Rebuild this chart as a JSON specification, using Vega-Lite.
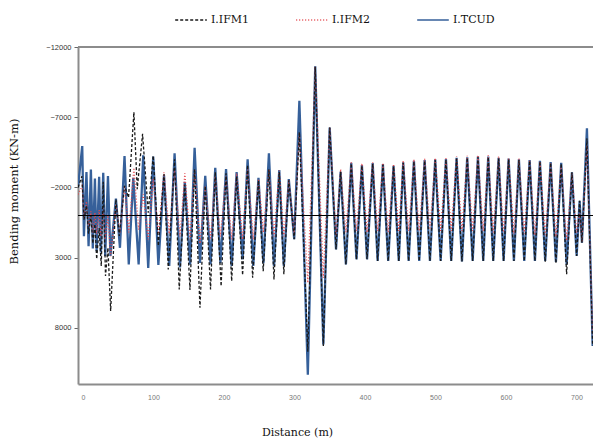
{
  "$schema": "https://vega.github.io/schema/vega-lite/v6.json",
  "width": 515,
  "height": 337,
  "autosize": {"type": "none"},
  "padding": {"left": 78, "top": 47, "right": 0, "bottom": 55},
  "background": "white",
  "config": {"view": {"stroke": null}},
  "data": {"values": [
    {"d": -7, "m": -2000, "s": "I.TCUD"},
    {"d": -1, "m": -4950, "s": "I.TCUD"},
    {"d": 1.4, "m": 1480, "s": "I.TCUD"},
    {"d": 5, "m": -3090, "s": "I.TCUD"},
    {"d": 8, "m": 2190, "s": "I.TCUD"},
    {"d": 11.3, "m": -3280, "s": "I.TCUD"},
    {"d": 14, "m": 2350, "s": "I.TCUD"},
    {"d": 17, "m": -2640, "s": "I.TCUD"},
    {"d": 19.4, "m": 2550, "s": "I.TCUD"},
    {"d": 23, "m": -2760, "s": "I.TCUD"},
    {"d": 25.5, "m": 2630, "s": "I.TCUD"},
    {"d": 28.8, "m": -3050, "s": "I.TCUD"},
    {"d": 31.6, "m": 2880, "s": "I.TCUD"},
    {"d": 35.5, "m": -2810, "s": "I.TCUD"},
    {"d": 39, "m": 2880, "s": "I.TCUD"},
    {"d": 46.8, "m": -1200, "s": "I.TCUD"},
    {"d": 52.5, "m": 2300, "s": "I.TCUD"},
    {"d": 59, "m": -4240, "s": "I.TCUD"},
    {"d": 65, "m": 3480, "s": "I.TCUD"},
    {"d": 71.4, "m": -2690, "s": "I.TCUD"},
    {"d": 79, "m": 3480, "s": "I.TCUD"},
    {"d": 85.5, "m": -4280, "s": "I.TCUD"},
    {"d": 92.6, "m": 3730, "s": "I.TCUD"},
    {"d": 99.7, "m": -4190, "s": "I.TCUD"},
    {"d": 107, "m": 3520, "s": "I.TCUD"},
    {"d": 115, "m": -2860, "s": "I.TCUD"},
    {"d": 122.4, "m": 3600, "s": "I.TCUD"},
    {"d": 130, "m": -4430, "s": "I.TCUD"},
    {"d": 137.6, "m": 3700, "s": "I.TCUD"},
    {"d": 144.5, "m": -2400, "s": "I.TCUD"},
    {"d": 152, "m": 3500, "s": "I.TCUD"},
    {"d": 158.4, "m": -4830, "s": "I.TCUD"},
    {"d": 166, "m": 3380, "s": "I.TCUD"},
    {"d": 173.5, "m": -2830, "s": "I.TCUD"},
    {"d": 181, "m": 3480, "s": "I.TCUD"},
    {"d": 187.7, "m": -3400, "s": "I.TCUD"},
    {"d": 195, "m": 3400, "s": "I.TCUD"},
    {"d": 203, "m": -3300, "s": "I.TCUD"},
    {"d": 211, "m": 3600, "s": "I.TCUD"},
    {"d": 218, "m": -3100, "s": "I.TCUD"},
    {"d": 226.5, "m": 3120, "s": "I.TCUD"},
    {"d": 233.6, "m": -4000, "s": "I.TCUD"},
    {"d": 241.6, "m": 3600, "s": "I.TCUD"},
    {"d": 249, "m": -2690, "s": "I.TCUD"},
    {"d": 256, "m": 3400, "s": "I.TCUD"},
    {"d": 263.8, "m": -4430, "s": "I.TCUD"},
    {"d": 271, "m": 3600, "s": "I.TCUD"},
    {"d": 278.5, "m": -3240, "s": "I.TCUD"},
    {"d": 285, "m": 3600, "s": "I.TCUD"},
    {"d": 292, "m": -2590, "s": "I.TCUD"},
    {"d": 299.7, "m": 1690, "s": "I.TCUD"},
    {"d": 307, "m": -8170, "s": "I.TCUD"},
    {"d": 319, "m": 11340, "s": "I.TCUD"},
    {"d": 329.5, "m": -10620, "s": "I.TCUD"},
    {"d": 341, "m": 9190, "s": "I.TCUD"},
    {"d": 350, "m": -6260, "s": "I.TCUD"},
    {"d": 359, "m": 2410, "s": "I.TCUD"},
    {"d": 365.5, "m": -3110, "s": "I.TCUD"},
    {"d": 373, "m": 3480, "s": "I.TCUD"},
    {"d": 380.6, "m": -3760, "s": "I.TCUD"},
    {"d": 388, "m": 3120, "s": "I.TCUD"},
    {"d": 395.7, "m": -3590, "s": "I.TCUD"},
    {"d": 403, "m": 3120, "s": "I.TCUD"},
    {"d": 411, "m": -3730, "s": "I.TCUD"},
    {"d": 418, "m": 3240, "s": "I.TCUD"},
    {"d": 425.5, "m": -3660, "s": "I.TCUD"},
    {"d": 433, "m": 3240, "s": "I.TCUD"},
    {"d": 440.6, "m": -3540, "s": "I.TCUD"},
    {"d": 448, "m": 3240, "s": "I.TCUD"},
    {"d": 454.3, "m": -3790, "s": "I.TCUD"},
    {"d": 462, "m": 3240, "s": "I.TCUD"},
    {"d": 469.5, "m": -3900, "s": "I.TCUD"},
    {"d": 477, "m": 3240, "s": "I.TCUD"},
    {"d": 484.7, "m": -3950, "s": "I.TCUD"},
    {"d": 492.2, "m": 3240, "s": "I.TCUD"},
    {"d": 499.7, "m": -4000, "s": "I.TCUD"},
    {"d": 507.4, "m": 3240, "s": "I.TCUD"},
    {"d": 514.9, "m": -4020, "s": "I.TCUD"},
    {"d": 522.4, "m": 3240, "s": "I.TCUD"},
    {"d": 530, "m": -4100, "s": "I.TCUD"},
    {"d": 537.6, "m": 3280, "s": "I.TCUD"},
    {"d": 545.1, "m": -4150, "s": "I.TCUD"},
    {"d": 552.8, "m": 3240, "s": "I.TCUD"},
    {"d": 560.3, "m": -4200, "s": "I.TCUD"},
    {"d": 567.8, "m": 3240, "s": "I.TCUD"},
    {"d": 574.9, "m": -4200, "s": "I.TCUD"},
    {"d": 582, "m": 3240, "s": "I.TCUD"},
    {"d": 589.6, "m": -4100, "s": "I.TCUD"},
    {"d": 596.7, "m": 3240, "s": "I.TCUD"},
    {"d": 603.8, "m": -4050, "s": "I.TCUD"},
    {"d": 611.3, "m": 3240, "s": "I.TCUD"},
    {"d": 618.4, "m": -4000, "s": "I.TCUD"},
    {"d": 626, "m": 3240, "s": "I.TCUD"},
    {"d": 633.6, "m": -3950, "s": "I.TCUD"},
    {"d": 641.1, "m": 3240, "s": "I.TCUD"},
    {"d": 648.2, "m": -3900, "s": "I.TCUD"},
    {"d": 655.7, "m": 3240, "s": "I.TCUD"},
    {"d": 663.4, "m": -3800, "s": "I.TCUD"},
    {"d": 670.9, "m": 3300, "s": "I.TCUD"},
    {"d": 678.4, "m": -3750, "s": "I.TCUD"},
    {"d": 686.1, "m": 3480, "s": "I.TCUD"},
    {"d": 693.6, "m": -3070, "s": "I.TCUD"},
    {"d": 700.3, "m": 2880, "s": "I.TCUD"},
    {"d": 704.5, "m": -1040, "s": "I.TCUD"},
    {"d": 707.8, "m": 1930, "s": "I.TCUD"},
    {"d": 714.9, "m": -6210, "s": "I.TCUD"},
    {"d": 723, "m": 9300, "s": "I.TCUD"},

    {"d": -7, "m": -1500, "s": "I.IFM2"},
    {"d": -1, "m": -2100, "s": "I.IFM2"},
    {"d": 1.5, "m": 200, "s": "I.IFM2"},
    {"d": 5, "m": -1000, "s": "I.IFM2"},
    {"d": 8, "m": 800, "s": "I.IFM2"},
    {"d": 11.3, "m": -300, "s": "I.IFM2"},
    {"d": 14, "m": 1200, "s": "I.IFM2"},
    {"d": 17, "m": -200, "s": "I.IFM2"},
    {"d": 19.4, "m": 1300, "s": "I.IFM2"},
    {"d": 23, "m": -400, "s": "I.IFM2"},
    {"d": 25.5, "m": 1500, "s": "I.IFM2"},
    {"d": 28.8, "m": -500, "s": "I.IFM2"},
    {"d": 31.6, "m": 1700, "s": "I.IFM2"},
    {"d": 35.5, "m": 0, "s": "I.IFM2"},
    {"d": 39.3, "m": 2900, "s": "I.IFM2"},
    {"d": 46.8, "m": -800, "s": "I.IFM2"},
    {"d": 52.5, "m": 1200, "s": "I.IFM2"},
    {"d": 59, "m": -2100, "s": "I.IFM2"},
    {"d": 65, "m": 1200, "s": "I.IFM2"},
    {"d": 72.3, "m": -3400, "s": "I.IFM2"},
    {"d": 79, "m": 1000, "s": "I.IFM2"},
    {"d": 85.5, "m": -1500, "s": "I.IFM2"},
    {"d": 92.6, "m": 1700, "s": "I.IFM2"},
    {"d": 99.7, "m": -2600, "s": "I.IFM2"},
    {"d": 107, "m": 1300, "s": "I.IFM2"},
    {"d": 115, "m": -3070, "s": "I.IFM2"},
    {"d": 122.4, "m": 1300, "s": "I.IFM2"},
    {"d": 130, "m": -3200, "s": "I.IFM2"},
    {"d": 137.6, "m": 1500, "s": "I.IFM2"},
    {"d": 144.5, "m": -3000, "s": "I.IFM2"},
    {"d": 152, "m": 1700, "s": "I.IFM2"},
    {"d": 158.4, "m": -3300, "s": "I.IFM2"},
    {"d": 166, "m": 2000, "s": "I.IFM2"},
    {"d": 173.5, "m": -2100, "s": "I.IFM2"},
    {"d": 181, "m": 1700, "s": "I.IFM2"},
    {"d": 187.7, "m": -2800, "s": "I.IFM2"},
    {"d": 195, "m": 1500, "s": "I.IFM2"},
    {"d": 203, "m": -2800, "s": "I.IFM2"},
    {"d": 211, "m": 1700, "s": "I.IFM2"},
    {"d": 218, "m": -3000, "s": "I.IFM2"},
    {"d": 226.5, "m": 1700, "s": "I.IFM2"},
    {"d": 233.6, "m": -3400, "s": "I.IFM2"},
    {"d": 241.6, "m": 1700, "s": "I.IFM2"},
    {"d": 249, "m": -2600, "s": "I.IFM2"},
    {"d": 256, "m": 1200, "s": "I.IFM2"},
    {"d": 263.8, "m": -3300, "s": "I.IFM2"},
    {"d": 271, "m": 1500, "s": "I.IFM2"},
    {"d": 278.5, "m": -3200, "s": "I.IFM2"},
    {"d": 285, "m": 1500, "s": "I.IFM2"},
    {"d": 292, "m": -2500, "s": "I.IFM2"},
    {"d": 299.7, "m": 1300, "s": "I.IFM2"},
    {"d": 307, "m": -5900, "s": "I.IFM2"},
    {"d": 319, "m": 4800, "s": "I.IFM2"},
    {"d": 329.5, "m": -10600, "s": "I.IFM2"},
    {"d": 341, "m": 4430, "s": "I.IFM2"},
    {"d": 350, "m": -6260, "s": "I.IFM2"},
    {"d": 359, "m": 1450, "s": "I.IFM2"},
    {"d": 365.5, "m": -3300, "s": "I.IFM2"},
    {"d": 373, "m": 1200, "s": "I.IFM2"},
    {"d": 380.6, "m": -3850, "s": "I.IFM2"},
    {"d": 388, "m": 1100, "s": "I.IFM2"},
    {"d": 395.7, "m": -3700, "s": "I.IFM2"},
    {"d": 403, "m": 1200, "s": "I.IFM2"},
    {"d": 411, "m": -3800, "s": "I.IFM2"},
    {"d": 418, "m": 1100, "s": "I.IFM2"},
    {"d": 425.5, "m": -3750, "s": "I.IFM2"},
    {"d": 433, "m": 1200, "s": "I.IFM2"},
    {"d": 440.6, "m": -3650, "s": "I.IFM2"},
    {"d": 448, "m": 1100, "s": "I.IFM2"},
    {"d": 454.3, "m": -3900, "s": "I.IFM2"},
    {"d": 462, "m": 1100, "s": "I.IFM2"},
    {"d": 469.5, "m": -4000, "s": "I.IFM2"},
    {"d": 477, "m": 1100, "s": "I.IFM2"},
    {"d": 484.7, "m": -4050, "s": "I.IFM2"},
    {"d": 492.2, "m": 1000, "s": "I.IFM2"},
    {"d": 499.7, "m": -4100, "s": "I.IFM2"},
    {"d": 507.4, "m": 1100, "s": "I.IFM2"},
    {"d": 514.9, "m": -4150, "s": "I.IFM2"},
    {"d": 522.4, "m": 1100, "s": "I.IFM2"},
    {"d": 530, "m": -4200, "s": "I.IFM2"},
    {"d": 537.6, "m": 1100, "s": "I.IFM2"},
    {"d": 545.1, "m": -4250, "s": "I.IFM2"},
    {"d": 552.8, "m": 1100, "s": "I.IFM2"},
    {"d": 560.3, "m": -4300, "s": "I.IFM2"},
    {"d": 567.8, "m": 1100, "s": "I.IFM2"},
    {"d": 574.9, "m": -4300, "s": "I.IFM2"},
    {"d": 582, "m": 1200, "s": "I.IFM2"},
    {"d": 589.6, "m": -4200, "s": "I.IFM2"},
    {"d": 596.7, "m": 1200, "s": "I.IFM2"},
    {"d": 603.8, "m": -4100, "s": "I.IFM2"},
    {"d": 611.3, "m": 1300, "s": "I.IFM2"},
    {"d": 618.4, "m": -4050, "s": "I.IFM2"},
    {"d": 626, "m": 1300, "s": "I.IFM2"},
    {"d": 633.6, "m": -3950, "s": "I.IFM2"},
    {"d": 641.1, "m": 1400, "s": "I.IFM2"},
    {"d": 648.2, "m": -3850, "s": "I.IFM2"},
    {"d": 655.7, "m": 1400, "s": "I.IFM2"},
    {"d": 663.4, "m": -3700, "s": "I.IFM2"},
    {"d": 670.9, "m": 1500, "s": "I.IFM2"},
    {"d": 678.4, "m": -3500, "s": "I.IFM2"},
    {"d": 686.1, "m": 1800, "s": "I.IFM2"},
    {"d": 693.6, "m": -3000, "s": "I.IFM2"},
    {"d": 700.3, "m": 1200, "s": "I.IFM2"},
    {"d": 704.5, "m": -200, "s": "I.IFM2"},
    {"d": 707.8, "m": 1900, "s": "I.IFM2"},
    {"d": 714.9, "m": -5000, "s": "I.IFM2"},
    {"d": 723, "m": 8500, "s": "I.IFM2"},

    {"d": -7, "m": -2000, "s": "I.IFM1"},
    {"d": -1.4, "m": -2790, "s": "I.IFM1"},
    {"d": 1.5, "m": 300, "s": "I.IFM1"},
    {"d": 5, "m": -700, "s": "I.IFM1"},
    {"d": 8, "m": 1300, "s": "I.IFM1"},
    {"d": 11.3, "m": 0, "s": "I.IFM1"},
    {"d": 14, "m": 2000, "s": "I.IFM1"},
    {"d": 17, "m": 600, "s": "I.IFM1"},
    {"d": 19.5, "m": 3100, "s": "I.IFM1"},
    {"d": 23, "m": 900, "s": "I.IFM1"},
    {"d": 26, "m": 3600, "s": "I.IFM1"},
    {"d": 28.8, "m": -2400, "s": "I.IFM1"},
    {"d": 32, "m": 4300, "s": "I.IFM1"},
    {"d": 35.5, "m": 2300, "s": "I.IFM1"},
    {"d": 39.3, "m": 6800, "s": "I.IFM1"},
    {"d": 46.8, "m": -1160, "s": "I.IFM1"},
    {"d": 51.5, "m": 1450, "s": "I.IFM1"},
    {"d": 59, "m": -2120, "s": "I.IFM1"},
    {"d": 64.7, "m": -1280, "s": "I.IFM1"},
    {"d": 72.3, "m": -7360, "s": "I.IFM1"},
    {"d": 77, "m": -1880, "s": "I.IFM1"},
    {"d": 84.6, "m": -5810, "s": "I.IFM1"},
    {"d": 92.6, "m": -200, "s": "I.IFM1"},
    {"d": 99.7, "m": -4260, "s": "I.IFM1"},
    {"d": 107, "m": 2170, "s": "I.IFM1"},
    {"d": 115, "m": -2950, "s": "I.IFM1"},
    {"d": 121, "m": 3840, "s": "I.IFM1"},
    {"d": 130, "m": -4000, "s": "I.IFM1"},
    {"d": 136.6, "m": 5260, "s": "I.IFM1"},
    {"d": 144.5, "m": -2200, "s": "I.IFM1"},
    {"d": 151.8, "m": 5300, "s": "I.IFM1"},
    {"d": 158.4, "m": -3300, "s": "I.IFM1"},
    {"d": 166, "m": 6570, "s": "I.IFM1"},
    {"d": 173.5, "m": -2100, "s": "I.IFM1"},
    {"d": 181, "m": 5260, "s": "I.IFM1"},
    {"d": 187.7, "m": -3100, "s": "I.IFM1"},
    {"d": 196, "m": 5030, "s": "I.IFM1"},
    {"d": 203, "m": -3000, "s": "I.IFM1"},
    {"d": 211, "m": 4670, "s": "I.IFM1"},
    {"d": 218, "m": -2800, "s": "I.IFM1"},
    {"d": 226.5, "m": 4250, "s": "I.IFM1"},
    {"d": 233.6, "m": -3600, "s": "I.IFM1"},
    {"d": 240.7, "m": 4430, "s": "I.IFM1"},
    {"d": 249, "m": -2500, "s": "I.IFM1"},
    {"d": 255.7, "m": 3960, "s": "I.IFM1"},
    {"d": 263.8, "m": -3300, "s": "I.IFM1"},
    {"d": 271, "m": 4550, "s": "I.IFM1"},
    {"d": 278.5, "m": -3100, "s": "I.IFM1"},
    {"d": 285, "m": 4190, "s": "I.IFM1"},
    {"d": 292, "m": -2500, "s": "I.IFM1"},
    {"d": 299.7, "m": 1690, "s": "I.IFM1"},
    {"d": 307, "m": -5930, "s": "I.IFM1"},
    {"d": 319, "m": 9700, "s": "I.IFM1"},
    {"d": 329.5, "m": -10600, "s": "I.IFM1"},
    {"d": 341, "m": 9290, "s": "I.IFM1"},
    {"d": 350, "m": -6260, "s": "I.IFM1"},
    {"d": 359, "m": 2410, "s": "I.IFM1"},
    {"d": 365.5, "m": -3110, "s": "I.IFM1"},
    {"d": 373, "m": 3480, "s": "I.IFM1"},
    {"d": 380.6, "m": -3700, "s": "I.IFM1"},
    {"d": 388, "m": 3120, "s": "I.IFM1"},
    {"d": 395.7, "m": -3550, "s": "I.IFM1"},
    {"d": 403, "m": 3120, "s": "I.IFM1"},
    {"d": 411, "m": -3680, "s": "I.IFM1"},
    {"d": 418, "m": 3240, "s": "I.IFM1"},
    {"d": 425.5, "m": -3620, "s": "I.IFM1"},
    {"d": 433, "m": 3240, "s": "I.IFM1"},
    {"d": 440.6, "m": -3500, "s": "I.IFM1"},
    {"d": 448, "m": 3240, "s": "I.IFM1"},
    {"d": 454.3, "m": -3750, "s": "I.IFM1"},
    {"d": 462, "m": 3240, "s": "I.IFM1"},
    {"d": 469.5, "m": -3850, "s": "I.IFM1"},
    {"d": 477, "m": 3240, "s": "I.IFM1"},
    {"d": 484.7, "m": -3900, "s": "I.IFM1"},
    {"d": 492.2, "m": 3240, "s": "I.IFM1"},
    {"d": 499.7, "m": -3950, "s": "I.IFM1"},
    {"d": 507.4, "m": 3240, "s": "I.IFM1"},
    {"d": 514.9, "m": -3980, "s": "I.IFM1"},
    {"d": 522.4, "m": 3240, "s": "I.IFM1"},
    {"d": 530, "m": -4050, "s": "I.IFM1"},
    {"d": 537.6, "m": 3280, "s": "I.IFM1"},
    {"d": 545.1, "m": -4100, "s": "I.IFM1"},
    {"d": 552.8, "m": 3240, "s": "I.IFM1"},
    {"d": 560.3, "m": -4150, "s": "I.IFM1"},
    {"d": 567.8, "m": 3240, "s": "I.IFM1"},
    {"d": 574.9, "m": -4150, "s": "I.IFM1"},
    {"d": 582, "m": 3240, "s": "I.IFM1"},
    {"d": 589.6, "m": -4050, "s": "I.IFM1"},
    {"d": 596.7, "m": 3240, "s": "I.IFM1"},
    {"d": 603.8, "m": -4000, "s": "I.IFM1"},
    {"d": 611.3, "m": 3240, "s": "I.IFM1"},
    {"d": 618.4, "m": -3950, "s": "I.IFM1"},
    {"d": 626, "m": 3240, "s": "I.IFM1"},
    {"d": 633.6, "m": -3900, "s": "I.IFM1"},
    {"d": 641.1, "m": 3240, "s": "I.IFM1"},
    {"d": 648.2, "m": -3850, "s": "I.IFM1"},
    {"d": 655.7, "m": 3300, "s": "I.IFM1"},
    {"d": 663.4, "m": -3750, "s": "I.IFM1"},
    {"d": 670.9, "m": 3400, "s": "I.IFM1"},
    {"d": 678.4, "m": -3700, "s": "I.IFM1"},
    {"d": 686.1, "m": 4190, "s": "I.IFM1"},
    {"d": 693.6, "m": -3070, "s": "I.IFM1"},
    {"d": 700.3, "m": 2880, "s": "I.IFM1"},
    {"d": 704.5, "m": -1040, "s": "I.IFM1"},
    {"d": 707.8, "m": 1930, "s": "I.IFM1"},
    {"d": 714.9, "m": -5500, "s": "I.IFM1"},
    {"d": 723, "m": 9300, "s": "I.IFM1"}
  ]},
  "layer": [
    {
      "transform": [{"filter": "datum.s == 'I.TCUD'"}],
      "mark": {"type": "line", "strokeWidth": 2.3, "clip": true},
      "encoding": {
        "x": {"field": "d", "type": "quantitative",
          "scale": {"domain": [-7, 723.5], "nice": false, "zero": false},
          "axis": {"title": "Distance (m)", "values": [0, 100, 200, 300, 400, 500, 600, 700], "format": "d",
            "grid": false, "ticks": false, "domainColor": "#8c8c8c", "domainWidth": 2,
            "labelFont": "Liberation Sans", "labelFontSize": 7, "labelColor": "#777", "labelPadding": 9,
            "titleFont": "DejaVu Serif", "titleFontSize": 11, "titleFontWeight": "normal", "titleColor": "#111",
            "titleX": 219, "titleY": 48, "titleAlign": "center", "titleBaseline": "middle"}},
        "y": {"field": "m", "type": "quantitative",
          "scale": {"domain": [-12000, 12000], "reverse": true, "nice": false, "zero": false},
          "axis": {"title": "Bending moment (KN-m)", "values": [-12000, -7000, -2000, 3000, 8000], "format": "d",
            "grid": false, "tickSize": 4, "tickColor": "#666", "domainColor": "#8c8c8c", "domainWidth": 2,
            "labelFont": "Liberation Sans", "labelFontSize": 7.5, "labelColor": "#333", "labelPadding": 3,
            "titleFont": "DejaVu Serif", "titleFontSize": 11.5, "titleFontWeight": "normal", "titleColor": "#111",
            "titleX": -64, "titleY": 144, "titleAlign": "center", "titleBaseline": "middle", "titleAngle": -90}},
        "color": {"field": "s", "type": "nominal",
          "scale": {"domain": ["I.IFM1", "I.IFM2", "I.TCUD"], "range": ["#1a1a1a", "#e3474d", "#36609a"]},
          "legend": {"title": null, "orient": "none", "legendX": 96, "legendY": -44, "direction": "horizontal",
            "symbolType": "stroke", "symbolSize": 1000, "symbolStrokeWidth": 1.5,
            "labelFont": "DejaVu Serif", "labelFontSize": 11, "labelColor": "#111",
            "columnPadding": 40, "labelOffset": 3, "gridAlign": "all", "padding": 0}},
        "strokeDash": {"field": "s", "type": "nominal",
          "scale": {"domain": ["I.IFM1", "I.IFM2", "I.TCUD"], "range": [[3, 2], [1, 2], [1, 0]]},
          "legend": {"title": null, "orient": "none", "legendX": 96, "legendY": -44, "direction": "horizontal",
            "symbolType": "stroke", "symbolSize": 1000, "symbolStrokeWidth": 1.5,
            "labelFont": "DejaVu Serif", "labelFontSize": 11, "labelColor": "#111",
            "columnPadding": 40, "labelOffset": 3, "gridAlign": "all", "padding": 0}}
      }
    },
    {
      "transform": [{"filter": "datum.s == 'I.IFM2'"}],
      "mark": {"type": "line", "strokeWidth": 1.3, "clip": true},
      "encoding": {
        "x": {"field": "d", "type": "quantitative"},
        "y": {"field": "m", "type": "quantitative"},
        "color": {"field": "s", "type": "nominal"},
        "strokeDash": {"field": "s", "type": "nominal"}
      }
    },
    {
      "transform": [{"filter": "datum.s == 'I.IFM1'"}],
      "mark": {"type": "line", "strokeWidth": 1.3, "clip": true},
      "encoding": {
        "x": {"field": "d", "type": "quantitative"},
        "y": {"field": "m", "type": "quantitative"},
        "color": {"field": "s", "type": "nominal"},
        "strokeDash": {"field": "s", "type": "nominal"}
      }
    },
    {
      "mark": {"type": "rule", "color": "#000000", "strokeWidth": 1.1},
      "encoding": {"y": {"datum": 0}}
    },
    {
      "mark": {"type": "rule", "color": "#8c8c8c", "strokeWidth": 1.5},
      "encoding": {"y": {"datum": -12000}}
    }
  ]
}
